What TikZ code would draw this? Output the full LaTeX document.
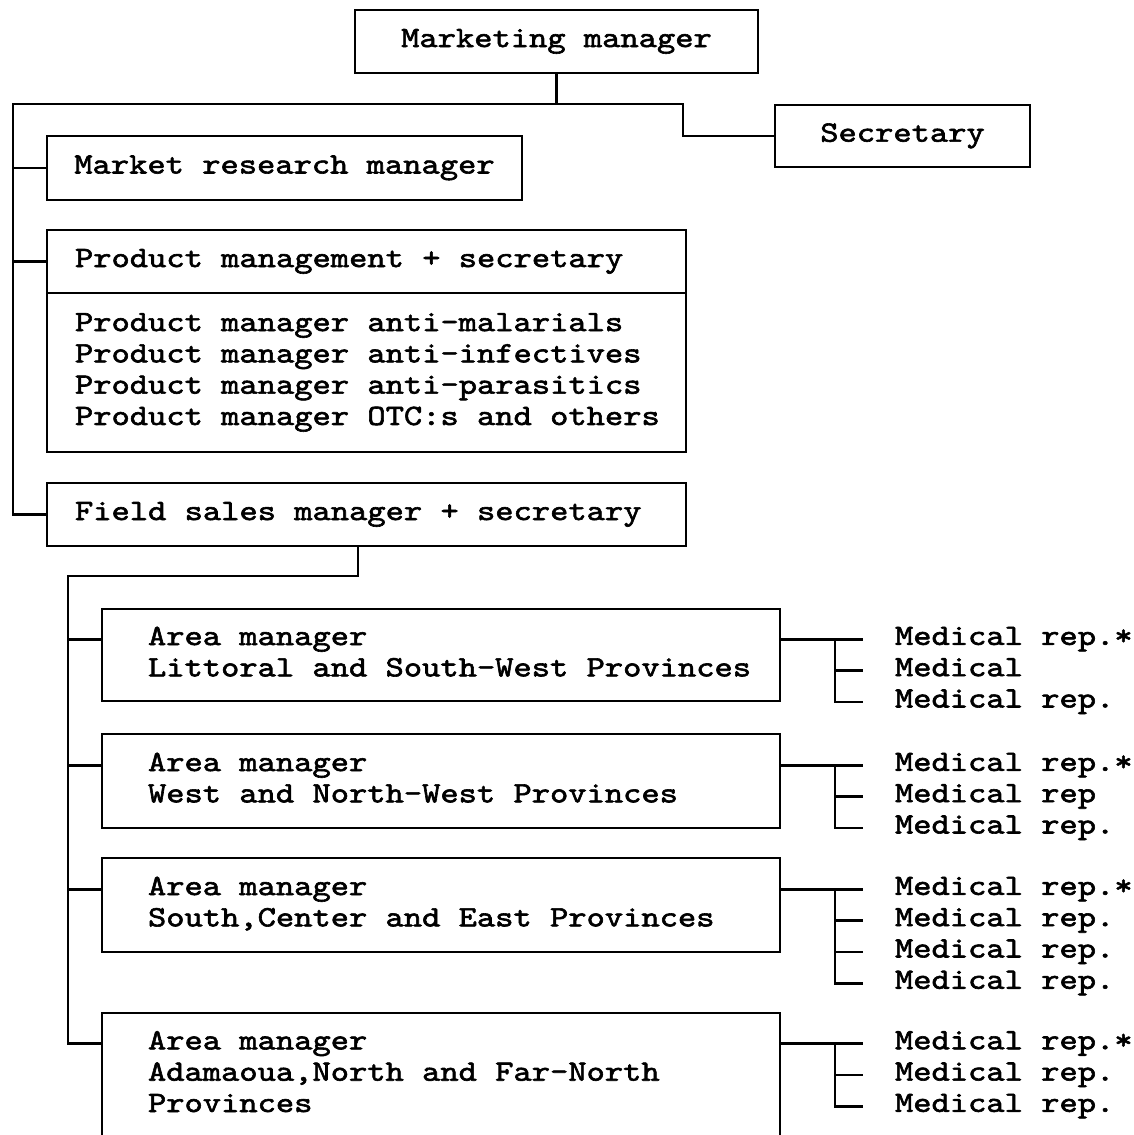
\documentclass[tikz,border=0pt]{standalone}
\usepackage{fontspec}
\newfontfamily\typew{lmmono10-regular}[Extension=.otf, FakeStretch=1.18, FakeBold=2]
% typewriter face with fixed word spaces equal to one character cell
\newcommand{\boxfont}{\typew\fontsize{29.5pt}{31.3pt}\selectfont
  \fontdimen2\font=\fontcharwd\font`x\relax
  \fontdimen3\font=0pt\relax\fontdimen4\font=0pt\relax}
% line strut: its vertical centre sits on the visual centre of a text line
\newcommand{\lnstrut}{\rule[-6.95pt]{0pt}{24.35pt}}
\newcommand{\pind}[1]{\hspace*{28pt}\lnstrut#1}
\newcommand{\aind}[1]{\hspace*{46pt}\lnstrut#1}

\tikzset{
  every node/.style={font=\boxfont, inner sep=0pt, outer sep=0pt},
  orgbox/.style={draw, line width=2.8pt, anchor=north west},
  cbox/.style={orgbox, align=flush center},
  lbox/.style={orgbox, align=flush left},
  link/.style={line width=2.8pt, line cap=rect},
  rep/.style={anchor=west}
}

\begin{document}
\begin{tikzpicture}[x=1pt, y=-1pt]
\useasboundingbox (0,0) rectangle (1134,1135);
\fill[white] (0,0) rectangle (1134,1135);

% top level
\node[cbox, text width=403pt, minimum height=63pt] (mm) at (355,10) {\lnstrut Marketing manager};
\node[cbox, text width=255pt, minimum height=62pt] (sec) at (775,105) {\lnstrut Secretary};
\node[cbox, text width=475pt, minimum height=64pt] (mr) at (47,136) {\lnstrut Market research manager};
\node[lbox, text width=639pt, minimum height=63pt] (pmh) at (47,230) {\pind{Product management + secretary}};
\node[lbox, text width=639pt, minimum height=159pt] (pmb) at (47,293)
  {\pind{Product manager anti-malarials}\\
   \pind{Product manager anti-infectives}\\
   \pind{Product manager anti-parasitics}\\
   \pind{Product manager OTC:s and others}};
\node[lbox, text width=639pt, minimum height=63pt] (fs) at (47,483) {\pind{Field sales manager + secretary}};

% area managers
\node[lbox, text width=678pt, minimum height=92pt] (a1) at (102,609)
  {\aind{Area manager}\\ \aind{Littoral and South-West Provinces}};
\node[lbox, text width=678pt, minimum height=94pt] (a2) at (102,734)
  {\aind{Area manager}\\ \aind{West and North-West Provinces}};
\node[lbox, text width=678pt, minimum height=94pt] (a3) at (102,858)
  {\aind{Area manager}\\ \aind{South,Center and East Provinces}};
\node[lbox, text width=678pt, minimum height=124pt] (a4) at (102,1013)
  {\aind{Area manager}\\ \aind{Adamaoua,North and Far-North}\\ \aind{Provinces}};

% medical representatives
\node[rep] (r11) at (895,639.35) {\lnstrut Medical rep.*};
\node[rep] (r12) at (895,670.65) {\lnstrut Medical};
\node[rep] (r13) at (895,701.95) {\lnstrut Medical rep.};
\node[rep] (r21) at (895,765.35) {\lnstrut Medical rep.*};
\node[rep] (r22) at (895,796.65) {\lnstrut Medical rep};
\node[rep] (r23) at (895,827.95) {\lnstrut Medical rep.};
\node[rep] (r31) at (895,889.35) {\lnstrut Medical rep.*};
\node[rep] (r32) at (895,920.65) {\lnstrut Medical rep.};
\node[rep] (r33) at (895,951.95) {\lnstrut Medical rep.};
\node[rep] (r34) at (895,983.25) {\lnstrut Medical rep.};
\node[rep] (r41) at (895,1043.7) {\lnstrut Medical rep.*};
\node[rep] (r42) at (895,1075) {\lnstrut Medical rep.};
\node[rep] (r43) at (895,1106.3) {\lnstrut Medical rep.};

% upper tree
\coordinate (tl) at (13,104);
\coordinate (tr) at (683,104);
\draw[link] (mm.south) -- (mm.south |- tl);
\draw[link] (tr) -- (tl) |- (fs.west);
\draw[link] (tr) |- (sec.west);
\draw[link] (tl |- mr.west) -- (mr.west);
\draw[link] (tl |- pmh.west) -- (pmh.west);

% field sales tree
\coordinate (ft) at (68,576);
\draw[link] ([xshift=-8.5pt]fs.south) |- (ft) |- (a4.west |- r41.west);
\foreach \b in {1,2,3}
  \draw[link] (ft |- r\b1.west) -- (a\b.west |- r\b1.west);

% representatives of each area
\foreach \b/\n in {1/3,2/3,3/4,4/3} {
  \draw[link] (a\b.east |- r\b1.west) -- ([xshift=-33pt]r\b1.west);
  \draw[link] ([xshift=-60pt]r\b1.west) |- ([xshift=-33pt]r\b\n.west);
  \pgfmathtruncatemacro{\m}{\n-1}
  \foreach \k in {2,...,\m}
    \draw[link] ([xshift=-60pt]r\b\k.west) -- ([xshift=-33pt]r\b\k.west);
}
\end{tikzpicture}
\end{document}
